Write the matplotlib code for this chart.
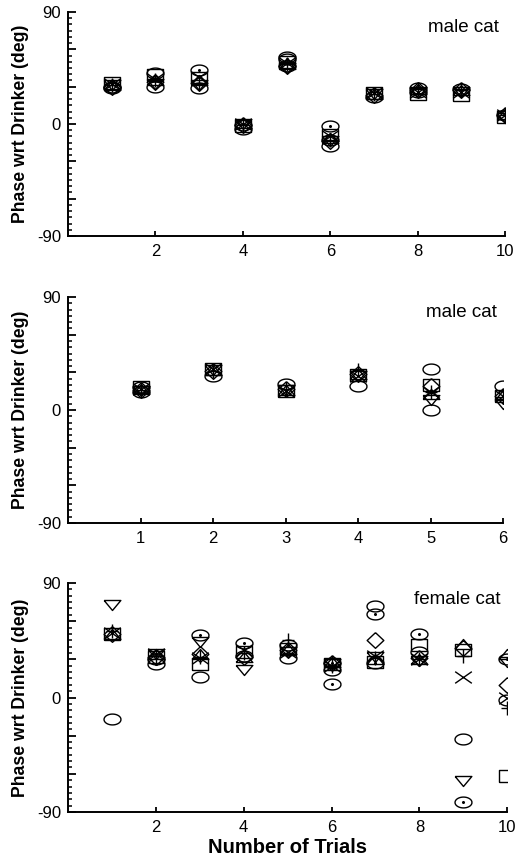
import numpy as np
import matplotlib
matplotlib.use('Agg')
import matplotlib.pyplot as plt
from matplotlib.path import Path

plt.rcParams['font.family'] = ['Liberation Sans', 'DejaVu Sans']

# ---- panel 1: male cat, 10 trials ----
p1_circle_x = [1, 1, 2, 2, 3, 4, 4, 5, 5, 6, 6, 7, 8, 8, 9, 10]
p1_circle_y = [30, 29, 41, 30, 29, -1, -4, 54, 47, -18, -13, 22, 29, 26, 28, 7]
p1_dot_x = [3, 6, 5]
p1_dot_y = [43, -2, 52]
p1_square_x = [1, 2, 3, 4, 5, 6, 7, 8, 9, 10]
p1_square_y = [33, 39, 37, -2, 50, -9, 25, 24, 23, 6]
p1_diamond_y = [30, 34, 33, -1, 47, -14, 23, 27, 27, 7]
p1_tridown_y = [31, 32, 31, 0, 45, -14, 24, 26, 26, 5]
p1_triup_y = [31, 35, 35, 1, 48, -11, 24, 28, 27, 8]
p1_x_y = [32, 36, 38, 0, 49, -10, 25, 26, 26, 7]
p1_plus_y = [31, 35, 33, -1, 48, -13, 24, 28, 27, 7]

# ---- panel 2: male cat, 6 trials ----
p2_circle_x = [1, 1, 2, 3, 4, 5, 5, 6]
p2_circle_y = [18, 14, 27, 21, 19, 33, 0, 19]
p2_trials = [1, 2, 3, 4, 5, 6]
p2_square_y = [18, 33, 15, 28, 20, 11]
p2_diamond_y = [16, 31, 17, 29, 19, 11]
p2_tridown_y = [15, 32, 16, 27, 8, 5]
p2_triup_y = [17, 32, 16, 29, 13, 12]
p2_x_y = [17, 33, 15, 27, 14, 11]
p2_plus_y = [16, 31, 17, 32, 14, 10]

# ---- panel 3: female cat, 10 trials ----
p3_circle_x = [1, 2, 3, 4, 5, 6, 7, 8, 9, 10]
p3_circle_y = [-17, 30, 16, 33, 31, 22, 72, 36, -33, -2]
p3_dot_x = [2, 3, 4, 5, 6, 6, 7, 7, 8, 9, 10]
p3_dot_y = [26, 49, 43, 41, 11, 27, 66, 27, 50, -82, 30]
p3_trials = [1, 2, 3, 4, 5, 6, 7, 8, 9, 10]
p3_square_y = [50, 32, 26, 36, 38, 26, 28, 41, 37, -62]
p3_diamond_y = [50, 32, 34, 32, 37, 27, 45, 31, 39, 10]
p3_tridown_y = [73, 34, 44, 22, 36, 26, 32, 29, -66, 28]
p3_triup_y = [50, 34, 34, 32, 38, 28, 30, 30, 42, 34]
p3_x_y = [51, 34, 31, 37, 36, 25, 33, 30, 16, 0]
p3_plus_y = [52, 33, 32, 35, 45, 25, 31, 30, 33, -8]

# wide, flat marker shapes like the original plotting package
t = np.linspace(0, 2*np.pi, 60)
m_ell = Path(np.column_stack([np.cos(t), 0.64*np.sin(t)]))
m_sq = Path([(-1, -0.75), (1, -0.75), (1, 0.75), (-1, 0.75), (-1, -0.75)])
m_dia = Path([(0, 0.94), (1, 0), (0, -0.94), (-1, 0), (0, 0.94)])
m_tdn = Path([(-1, 0.6), (1, 0.6), (0, -0.6), (-1, 0.6)])
m_tup = Path([(-1, -0.6), (1, -0.6), (0, 0.6), (-1, -0.6)])
m_x = Path([(-1, -0.7), (1, 0.7), (-1, 0.7), (1, -0.7)],
           [Path.MOVETO, Path.LINETO, Path.MOVETO, Path.LINETO])
m_plus = Path([(-0.85, 0), (0.85, 0), (0, -1), (0, 1)],
              [Path.MOVETO, Path.LINETO, Path.MOVETO, Path.LINETO])

mk = dict(linestyle='none', markerfacecolor='none', markeredgecolor='black',
          markeredgewidth=1.0)


def draw(ax, cx, cy, dx, dy, xs, sq, di, td, tu, xx, pl, xmax, label):
    ax.plot(xs, sq, marker=m_sq, markersize=11.5, **mk)
    ax.plot(xs, di, marker=m_dia, markersize=12, **mk)
    ax.plot(xs, td, marker=m_tdn, markersize=12, **mk)
    ax.plot(xs, tu, marker=m_tup, markersize=12, **mk)
    ax.plot(xs, xx, marker=m_x, markersize=12, **mk)
    ax.plot(xs, pl, marker=m_plus, markersize=10, **mk)
    ax.plot(cx, cy, marker=m_ell, markersize=12.2, **mk)
    if dx:
        ax.plot(dx, dy, marker=m_ell, markersize=12.2, **mk)
        ax.plot(dx, dy, linestyle='none', marker='o', markersize=1.2, color='black')
    ax.set_xlim(0, xmax)
    ax.set_ylim(-90, 90)
    ax.set_yticks([-90, -60, -30, 0, 30, 60, 90])
    ax.set_yticklabels(['-90', '', '', '0', '', '', '90'])
    ax.set_yticks(np.arange(-90, 91, 5), minor=True)
    ax.spines['top'].set_visible(False)
    ax.spines['right'].set_visible(False)
    ax.spines['left'].set_linewidth(1.4)
    ax.spines['bottom'].set_linewidth(1.4)
    ax.tick_params(axis='y', which='major', direction='in', length=5.5, width=1.3,
                   labelsize=12, pad=5)
    ax.tick_params(axis='x', which='major', direction='in', length=3.5, width=1.3,
                   labelsize=12, pad=6)
    ax.tick_params(axis='y', which='minor', direction='in', length=3, width=1.1)
    ax.set_ylabel('Phase wrt Drinker (deg)', fontsize=12.7, fontweight='bold', labelpad=6)
    ax.text(0.985, 0.93, label, transform=ax.transAxes, ha='right', va='center',
            fontsize=13.5)


fig = plt.figure(figsize=(5.15, 8.57), dpi=100)
ax1 = fig.add_axes([0.132, 0.7246, 0.849, 0.2614])
ax2 = fig.add_axes([0.132, 0.3897, 0.845, 0.2637])
ax3 = fig.add_axes([0.132, 0.0525, 0.853, 0.2672])

draw(ax1, p1_circle_x, p1_circle_y, p1_dot_x, p1_dot_y, p1_square_x, p1_square_y,
     p1_diamond_y, p1_tridown_y, p1_triup_y, p1_x_y, p1_plus_y, 10, 'male cat')
ax1.set_xticks([2, 4, 6, 8, 10])

draw(ax2, p2_circle_x, p2_circle_y, None, None, p2_trials, p2_square_y,
     p2_diamond_y, p2_tridown_y, p2_triup_y, p2_x_y, p2_plus_y, 6, 'male cat')
ax2.set_xticks([1, 2, 3, 4, 5, 6])

draw(ax3, p3_circle_x, p3_circle_y, p3_dot_x, p3_dot_y, p3_trials, p3_square_y,
     p3_diamond_y, p3_tridown_y, p3_triup_y, p3_x_y, p3_plus_y, 10, 'female cat')
ax3.set_xticks([2, 4, 6, 8, 10])
ax3.set_xlabel('Number of Trials', fontsize=14.5, fontweight='bold', labelpad=2)

fig.savefig('out.png', dpi=100)
